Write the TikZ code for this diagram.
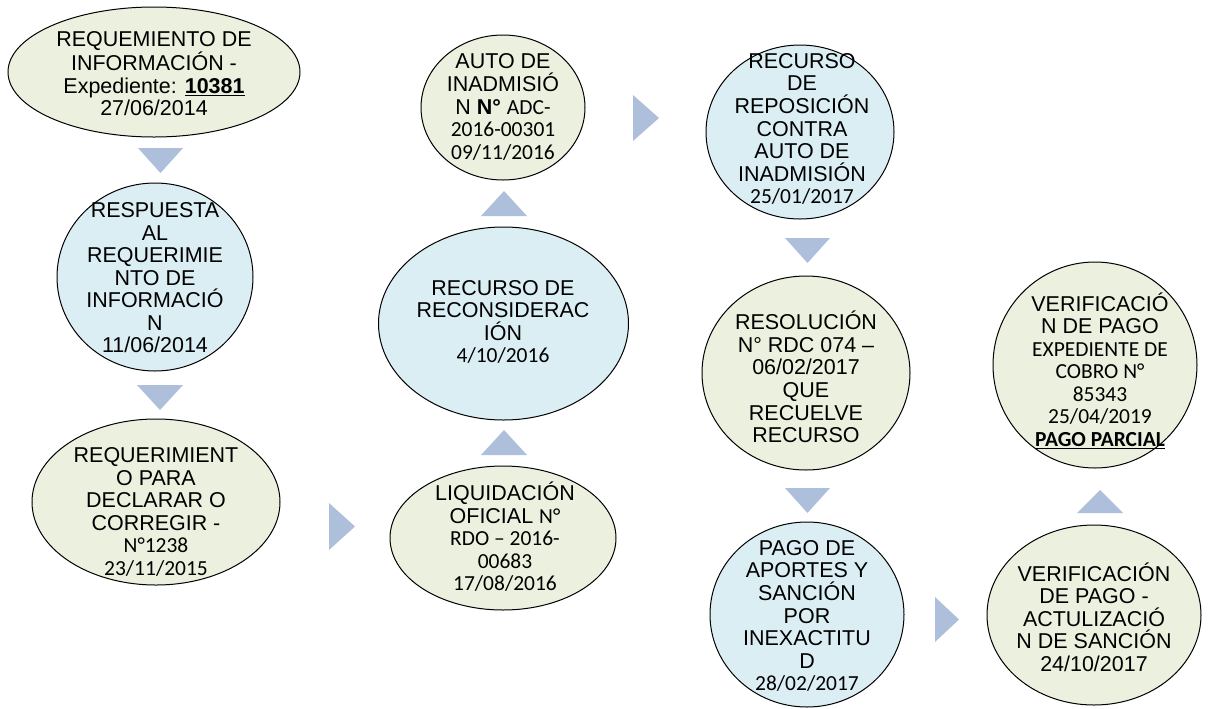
\documentclass[tikz,border=0pt]{standalone}
\usepackage{fontspec}
\setmainfont{Liberation Sans}
\newfontfamily\calib{Carlito}
\usetikzlibrary{shapes.geometric}
\definecolor{grn}{HTML}{EBF1DE}
\definecolor{blu}{HTML}{DBEEF4}
\definecolor{tri}{HTML}{AEBFDB}
\tikzset{
  ell/.style={ellipse, draw=black, line width=0.75pt, inner sep=0pt},
  gr/.style={ell, fill=grn},
  bl/.style={ell, fill=blu},
  txt/.style={align=center, font=\fontsize{16.1}{16.9}\selectfont, inner sep=0pt},
  arr/.style={fill=tri, draw=none}
}
\begin{document}
\begin{tikzpicture}[x=0.75pt,y=-0.75pt]
\useasboundingbox (0,0) rectangle (1211,708);
% ellipses
\node[gr, minimum width=219pt, minimum height=97.5pt] (e1) at (154,72) {};
\node[bl, minimum width=147pt, minimum height=141pt] (e2) at (155,277) {};
\node[gr, minimum width=186pt, minimum height=124.5pt] (e3) at (156,502) {};
\node[gr, minimum width=123pt, minimum height=108.75pt] (e4) at (503,107.5) {};
\node[bl, minimum width=187.5pt, minimum height=144.75pt] (e5) at (503.5,323.5) {};
\node[gr, minimum width=169.5pt, minimum height=108pt] (e6) at (503,538) {};
\node[bl, minimum width=141pt, minimum height=130.5pt] (e7) at (800,132) {};
\node[gr, minimum width=156pt, minimum height=145.5pt] (e8) at (806,373) {};
\node[bl, minimum width=145.5pt, minimum height=138.75pt] (e9) at (807,614.5) {};
\node[gr, minimum width=153pt, minimum height=154.5pt] (e10) at (1095,365) {};
\node[gr, minimum width=160.5pt, minimum height=135pt] (e11) at (1094,615) {};
% arrows (triangles)
\fill[arr] (138,148) -- (183,148) -- (160.5,173) -- cycle;
\fill[arr] (137,385) -- (183,385) -- (160,410) -- cycle;
\fill[arr] (329,503) -- (329,550) -- (355,526.5) -- cycle;
\fill[arr] (481,455) -- (527,455) -- (504,430) -- cycle;
\fill[arr] (481,216) -- (527,216) -- (504,191) -- cycle;
\fill[arr] (633,95) -- (633,141) -- (659,118) -- cycle;
\fill[arr] (785,238) -- (830,238) -- (807.5,263) -- cycle;
\fill[arr] (785,488) -- (830,488) -- (807.5,513) -- cycle;
\fill[arr] (935,597) -- (935,642) -- (959,619.5) -- cycle;
\fill[arr] (1077,513) -- (1123,513) -- (1100,490) -- cycle;
% texts
\node[txt] (t1) at (154,74) {REQUEMIENTO DE\\INFORMACIÓN -\\Expediente: \textbf{\underline{10381}}\\27/06/2014};
\node[txt] (t2) at (155,278) {RESPUESTA\\AL\\REQUERIMIE\\NTO DE\\INFORMACIÓ\\N\\11/06/2014};
\node[txt] (t3) at (156,512) {REQUERIMIENT\\O PARA\\DECLARAR O\\CORREGIR -\\\calib N°1238\\\calib 23/11/2015};
\node[txt] (t4) at (503,107) {AUTO DE\\INADMISIÓ\\N \textbf{N°} {\calib ADC-}\\\calib 2016-00301\\\calib 09/11/2016};
\node[txt] (t5) at (503,322) {RECURSO DE\\RECONSIDERAC\\IÓN\\\calib 4/10/2016};
\node[txt] (t6) at (505,537) {LIQUIDACIÓN\\OFICIAL {\calib N°}\\\calib RDO – 2016-\\\calib 00683\\\calib 17/08/2016};
\node[txt] (t7) at (802,129) {RECURSO\\DE\\REPOSICIÓN\\CONTRA\\AUTO DE\\INADMISIÓN\\\calib 25/01/2017};
\node[txt] (t8) at (806,377) {RESOLUCIÓN\\N° RDC 074 –\\06/02/2017\\QUE\\RECUELVE\\RECURSO};
\node[txt] (t9) at (807,616) {PAGO DE\\APORTES Y\\SANCIÓN\\POR\\INEXACTITU\\D\\\calib 28/02/2017};
\node[txt] (t10) at (1100,371) {VERIFICACIÓ\\N DE PAGO\\\calib EXPEDIENTE DE\\\calib COBRO N°\\\calib 85343\\\calib 25/04/2019\\\calib\bfseries\underline{PAGO PARCIAL}};
\node[txt] (t11) at (1094,617) {VERIFICACIÓN\\DE PAGO -\\ACTULIZACIÓ\\N DE SANCIÓN\\24/10/2017};
\end{tikzpicture}
\end{document}
